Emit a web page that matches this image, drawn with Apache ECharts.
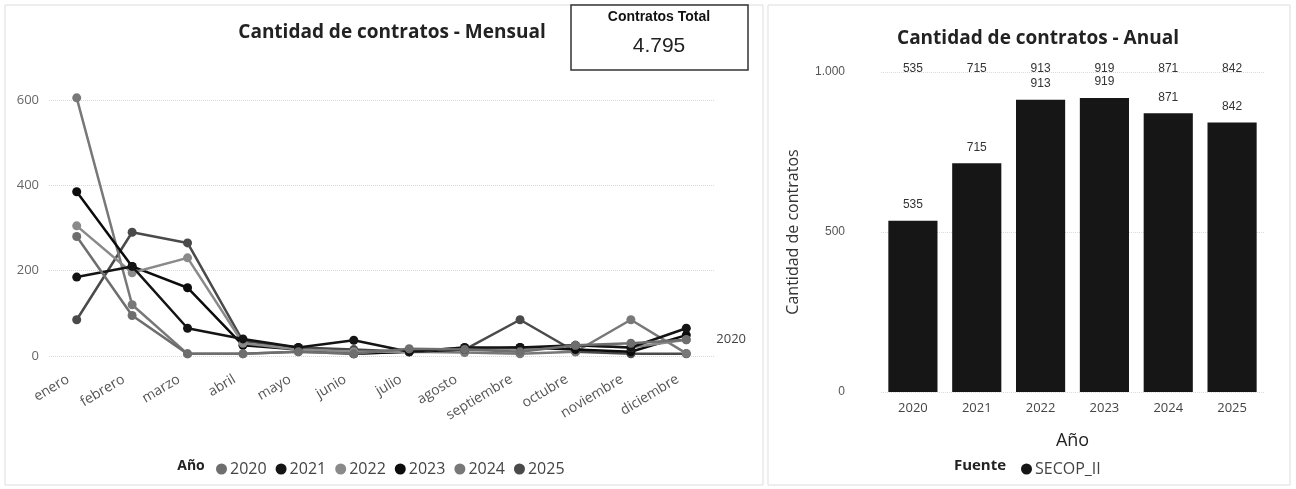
<!DOCTYPE html>
<html><head><meta charset="utf-8">
<script src="https://cdn.jsdelivr.net/npm/echarts@6/dist/echarts.min.js"></script>
<style>html,body{margin:0;padding:0;background:#fff}#c{width:1296px;height:489px}</style>
</head><body><div id="c"></div>
<script>
const months = ['enero','febrero','marzo','abril','mayo','junio','julio','agosto','septiembre','octubre','noviembre','diciembre'];
const years = ['2020','2021','2022','2023','2024','2025'];
const m2020 = [280, 95, 5, 5, 10, 5, 17, 15, 10, 25, 30, 38];
const m2021 = [185, 210, 65, 40, 20, 37, 10, 20, 20, 25, 20, 65];
const m2022 = [305, 195, 230, 30, 15, 10, 10, 20, 15, 25, 20, 38];
const m2023 = [385, 210, 160, 25, 15, 5, 10, 15, 20, 15, 10, 49];
const m2024 = [605, 120, 5, 5, 10, 5, 10, 8, 5, 10, 85, 6];
const m2025 = [85, 290, 265, 35, 20, 15, 10, 15, 85, 10, 5, 5];
const yearTotals = [535, 715, 913, 919, 871, 842];
const totalContracts = '4.795';

const colors = ['#6e6e6e', '#141414', '#8a8a8a', '#0c0c0c', '#787878', '#4a4a4a'];
const monthly = [m2020, m2021, m2022, m2023, m2024, m2025];
const font = 'Open Sans';

const chart = echarts.init(document.getElementById('c'));
const lineSeries = years.map((y, i) => ({
  name: y, type: 'line', xAxisIndex: 0, yAxisIndex: 0,
  data: monthly[i], symbol: 'circle', symbolSize: 9, clip: false,
  lineStyle: { width: 2.5, color: colors[i] }, itemStyle: { color: colors[i] },
  endLabel: i === 0 ? { show: true, formatter: '{a}', distance: 30, color: '#444', fontSize: 13, fontFamily: font } : { show: false },
  z: 10 - i
}));

chart.setOption({
  animation: false,
  textStyle: { fontFamily: font },
  graphic: [
    { type: 'rect', shape: { x: 5, y: 5, width: 758, height: 480 }, style: { fill: 'none', stroke: '#dddddd', lineWidth: 1 } },
    { type: 'rect', shape: { x: 768, y: 5, width: 522, height: 480 }, style: { fill: 'none', stroke: '#dddddd', lineWidth: 1 } },
    { type: 'rect', shape: { x: 571, y: 5, width: 177, height: 65 }, style: { fill: '#fff', stroke: '#333', lineWidth: 1.5 }, z: 5 },
    { type: 'text', x: 659, y: 17, style: { text: 'Contratos Total', font: 'bold 14px "Liberation Sans"', fill: '#111', align: 'center', verticalAlign: 'middle' }, z: 6 },
    { type: 'text', x: 659, y: 46, style: { text: totalContracts, font: '21px "Liberation Sans"', fill: '#222', align: 'center', verticalAlign: 'middle' }, z: 6 },
    { type: 'text', x: 191, y: 466, style: { text: 'Año', font: 'bold 14px "Open Sans"', fill: '#222', align: 'center', verticalAlign: 'middle' } },
    { type: 'text', x: 980, y: 466, style: { text: 'Fuente', font: 'bold 15px "Open Sans"', fill: '#222', align: 'center', verticalAlign: 'middle' } }
  ],
  title: [
    { text: 'Cantidad de contratos - Mensual', left: 387, top: 18, textAlign: 'center', textStyle: { fontFamily: font, fontWeight: 'bold', fontSize: 19, color: '#222' } },
    { text: 'Cantidad de contratos - Anual', left: 1033, top: 24, textAlign: 'center', textStyle: { fontFamily: font, fontWeight: 'bold', fontSize: 19, color: '#222' } }
  ],
  legend: [
    { data: years, left: 211, top: 456, itemWidth: 11, itemHeight: 11, itemGap: 9, icon: 'circle',
      textStyle: { fontFamily: font, fontSize: 16, color: '#444', padding: [0, 0, 0, -2] } },
    { data: ['SECOP_II'], left: 1016, top: 456, itemWidth: 11, itemHeight: 11, icon: 'circle',
      textStyle: { fontFamily: font, fontSize: 16, color: '#444', padding: [0, 0, 0, -2] } }
  ],
  grid: [
    { left: 49, right: 582, top: 100, bottom: 133 },
    { left: 881, right: 32, top: 72, bottom: 97 }
  ],
  xAxis: [
    { type: 'category', gridIndex: 0, data: months, boundaryGap: true,
      axisLine: { show: false }, axisTick: { show: false },
      axisLabel: { rotate: 31, color: '#555', fontSize: 14, fontFamily: font, margin: 17, padding: [0, 10, 0, 0] } },
    { type: 'category', gridIndex: 1, data: years,
      axisLine: { show: false }, axisTick: { show: false },
      axisLabel: { color: '#444', fontSize: 13, fontFamily: font, margin: 10 },
      name: 'Año', nameLocation: 'middle', nameGap: 40, nameTextStyle: { fontSize: 18, color: '#222', fontFamily: font } },
    { type: 'category', gridIndex: 1, position: 'top', data: yearTotals.map(String),
      axisLine: { show: false }, axisTick: { show: false },
      axisLabel: { color: '#333', fontSize: 12, fontFamily: 'Liberation Sans', margin: -3 } }
  ],
  yAxis: [
    { type: 'value', gridIndex: 0, min: 0, max: 600, interval: 200,
      axisLine: { show: false }, axisTick: { show: false },
      axisLabel: { color: '#666', fontSize: 13, fontFamily: font, margin: 10 },
      splitLine: { lineStyle: { type: 'dotted', color: '#d8d8d8' } } },
    { type: 'value', gridIndex: 1, min: 0, max: 1000, interval: 500,
      axisLine: { show: false }, axisTick: { show: false },
      axisLabel: { color: '#555', fontSize: 12, fontFamily: 'Liberation Sans', margin: 36,
        formatter: v => v === 1000 ? '1.000' : String(v) },
      splitLine: { lineStyle: { type: 'dotted', color: '#dadada' } },
      name: 'Cantidad de contratos', nameLocation: 'middle', nameGap: 80, nameRotate: 90,
      nameTextStyle: { fontSize: 16, color: '#333', fontFamily: font } }
  ],
  series: lineSeries.concat([
    { name: 'SECOP_II', type: 'bar', xAxisIndex: 1, yAxisIndex: 1, data: yearTotals, barCategoryGap: '23%',
      itemStyle: { color: '#161616' },
      label: { show: true, position: 'top', distance: 10, color: '#333', fontSize: 12, fontFamily: 'Liberation Sans' } }
  ])
});
</script></body></html>
